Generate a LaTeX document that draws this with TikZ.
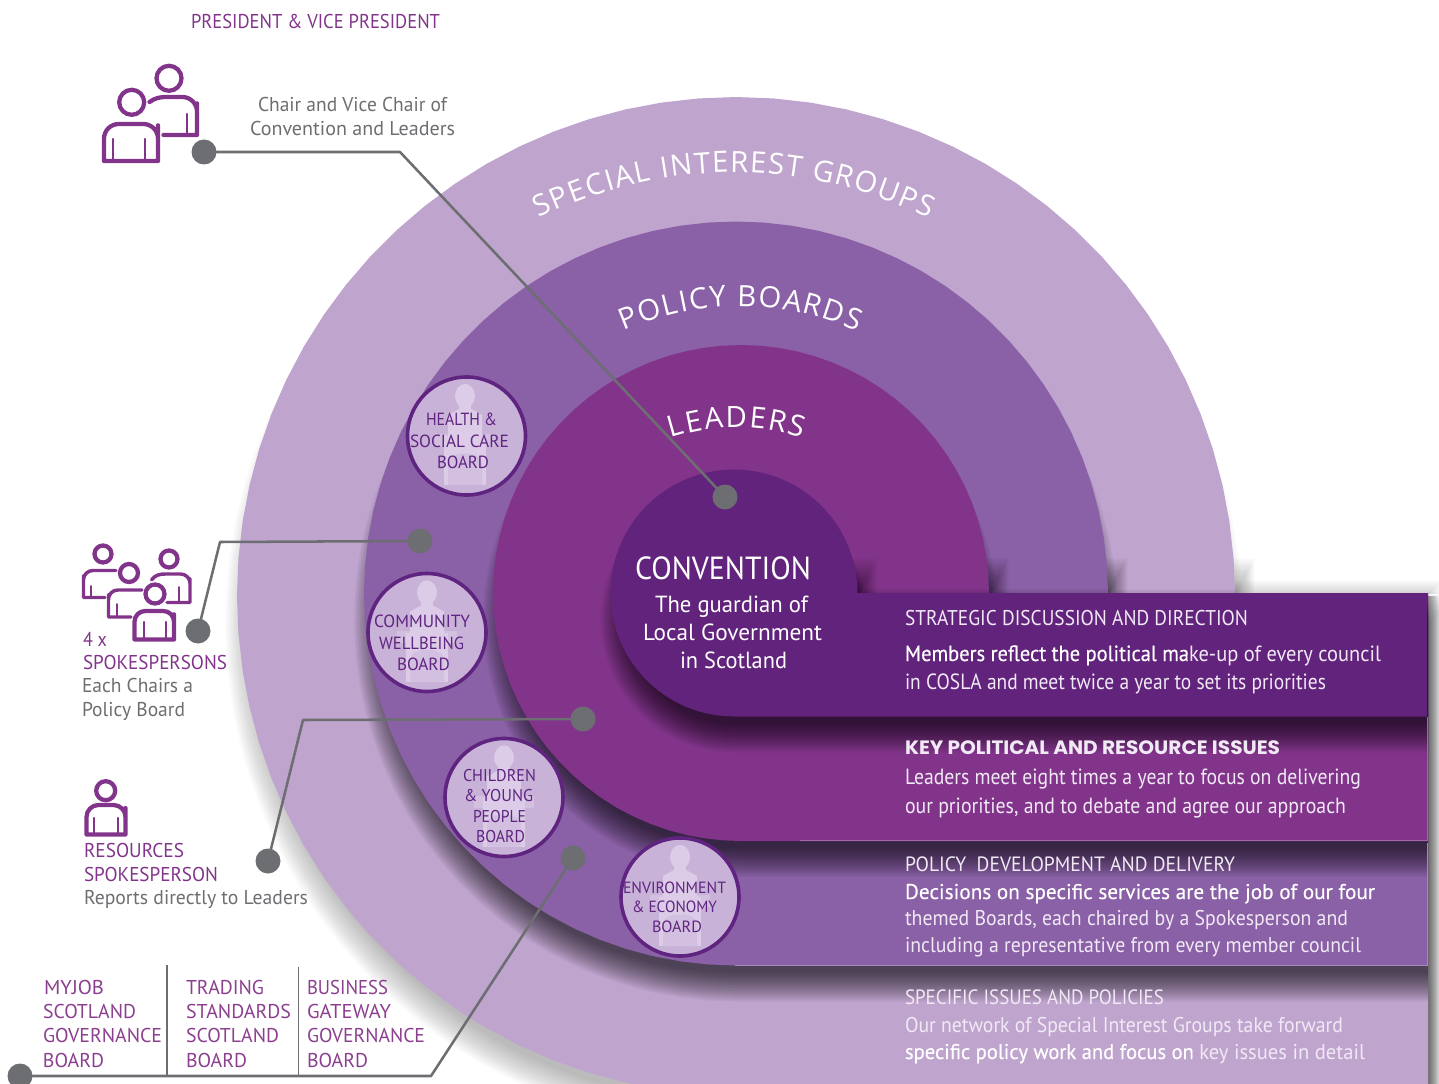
\documentclass[tikz,border=0pt]{standalone}
\usepackage{fontspec}
\usepackage{graphicx}
\usetikzlibrary{decorations.text}
\setmainfont{PT Sans}
\newfontfamily\arcfont{Open Sans}
\newfontfamily\keyfont{Poppins}
\newfontfamily\medfont[FakeBold=0.35]{PT Sans}
\definecolor{ringD}{HTML}{BFA4CE}
\definecolor{ringC}{HTML}{8A60A6}
\definecolor{ringB}{HTML}{82348B}
\definecolor{ringA}{HTML}{62237C}
\definecolor{purp}{HTML}{82348B}
\definecolor{purpB}{HTML}{8C3E8F}
\definecolor{deep}{HTML}{5F2480}
\definecolor{greyt}{HTML}{6D6E71}
\definecolor{disc}{HTML}{C9B2D8}
\definecolor{sil}{HTML}{DCCCE7}
\definecolor{silB}{HTML}{D3BFE0}
\definecolor{paleT}{HTML}{F1E9F5}
\newdimen\pxu \pxu=.75pt
\newcommand\tline[3]{\hbox{\kern#1\pxu\resizebox{#2\pxu}{\height}{#3}}}
% name, x, y of first baseline, leading, node options, lines
\newcommand\tblock[6]{\node[txt,#5] (#1) at (#2,#3) {\vtop{\baselineskip=#4\pxu\lineskiplimit=-1000pt\relax #6}};}
\newcommand\fs[1]{\fontsize{#1}{#1}\selectfont}
\newcommand\bandfill[6]{%
  \pgfmathsetmacro\sA{asin(#6/(#4+#6))}%
  \pgfmathsetmacro\rE{#4+#6}%
  \fill[#1] plot[domain=\sA:270,samples=64,variable=\ang] ({#2+\rE*cos(\ang)},{#3-\rE*sin(\ang)}) -- (#5+#6,#3+\rE) -- (#5+#6,#3-#6) -- cycle;}
\newcommand\bandclip[4]{%
  \clip plot[domain=0:270,samples=64,variable=\ang] ({#1+#3*cos(\ang)},{#2-#3*sin(\ang)}) -- (#4,#2+#3) -- (#4,#2) -- cycle;}
% cx cy r R opacity step: blurred shadow, shrunk and dropped so it shows below
\newcommand\softshadow[6]{%
  \foreach \i in {1,...,20}{%
    \pgfmathsetmacro\ee{\i*#6}%
    \bandfill{black,opacity=#5}{#1}{#2+26}{#3-20}{#4}{\ee}}}
% soft shadow where a disc meets the band: x of disc edge, y of band top, opacity
\newcommand\shadewedge[3]{%
  \foreach \i in {1,...,30}{%
    \fill[black,opacity=#3] (#1-8,#2-1.2*\i) rectangle (#1+.65*\i,#2+2);}}
\tikzset{
  txt/.style={inner sep=0pt,outer sep=0pt,anchor=base west},
  dotn/.style={circle,fill=greyt,minimum size=25*.75pt,inner sep=0pt},
  conn/.style={draw=greyt,line width=1.9pt,line join=round},
  divider/.style={draw=greyt,line width=1.3pt},
  icon/.style={draw=purp,line width=3.2pt,line cap=round,line join=round},
  iconthin/.style={draw=purp,line width=1.8pt,line cap=round},
  boardc/.style={circle,draw=deep,fill=disc,line width=2.7pt,minimum size=118*.75pt,inner sep=0pt},
  speaker/.pic={
    \fill[silB] (-30,-2) rectangle (30,10);
    \fill[sil] (0,-40) ellipse[x radius=10,y radius=12];
    \fill[sil] (-6,-32) rectangle (6,-22);
    \fill[sil] (-6,-27) -- (6,-27) -- (17,-21) -- (17,3) -- (-17,3) -- (-17,-21) -- cycle;
    \fill[sil] (-21,0) rectangle (21,49);
    \fill[silB] (-17,49) -- (-17,27) .. controls (-17,14) and (17,14) .. (17,27) -- (17,49) -- cycle;
  },
  arctext/.style={postaction={decorate},decoration={text along path,text align={fit to path},text={#1}}}
}
\begin{document}
\begin{tikzpicture}[x=.75pt,y=-.75pt]
\useasboundingbox (0,0) rectangle (1439,1084);
% --- rings with bands
\softshadow{734}{596}{499}{1428}{0.014}{1.5}
\shadewedge{1235}{594}{0.012}
\foreach \i in {1,...,10}{\fill[black,opacity=.05] (1428,596) rectangle (1428+\i,1084);}
\foreach \i in {1,...,14}{\fill[black,opacity=.012] (1235,594-\i) rectangle (1428+\i,594);}
\bandfill{ringD}{736}{596}{499}{1428}{0}
\begin{scope}\bandclip{736}{596}{499}{1428}
\softshadow{736}{593.5}{372}{1428}{0.04}{1.5}
\shadewedge{1108}{594}{0.014}
\end{scope}
\bandfill{ringC}{736}{593.5}{372}{1428}{0}
\begin{scope}\bandclip{736}{593.5}{372}{1428}
\softshadow{741}{593}{248}{1428}{0.04}{1.5}
\shadewedge{989}{594}{0.014}
\end{scope}
\bandfill{ringB}{741}{593}{248}{1428}{0}
\begin{scope}\bandclip{741}{593}{248}{1428}
\softshadow{734}{593}{123.5}{1427}{0.04}{1.5}
\shadewedge{857.5}{594}{0.014}
\end{scope}
\bandfill{ringA}{734}{593}{123.5}{1427}{0}
\draw[color=ringB!75!white,line width=.6pt] (800,840) -- (1427,840) -- (1427,717);
\draw[color=ringC!75!white,line width=.6pt] (735,965) -- (1427,965) -- (1427,843);
% --- curved labels
\path[arctext={|\arcfont\fs{22}\color{white}|SPECIAL INTEREST GROUPS}]
  (539,218) .. controls (668,157) and (800,157) .. (929,218);
\path[arctext={|\arcfont\fs{22}\color{white}|POLICY BOARDS}]
  (624,331) .. controls (702,298) and (779,298) .. (857,331);
\path[arctext={|\arcfont\fs{22}\color{white}|LEADERS}]
  (671,438) .. controls (716,424) and (759,424) .. (802,438);
% --- connectors
\node[dotn] (d1) at (204,152) {};
\node[dotn] (d2) at (725,497) {};
\node[dotn] (d3) at (198,631) {};
\node[dotn] (d4) at (420,541) {};
\node[dotn] (d5) at (268,861) {};
\node[dotn] (d6) at (583,719) {};
\node[dotn] (d7) at (20,1076) {};
\node[dotn] (d8) at (573,858) {};
\coordinate (b1) at (400,152);
\coordinate (b2) at (220,542);
\coordinate (b3) at (303,720);
\coordinate (b4) at (431,1076);
\coordinate (v1a) at (167,965);
\coordinate (v1b) at (167,1076);
\coordinate (v2a) at (298.5,967);
\coordinate (v2b) at (298.5,1076);
\draw[conn] (d1.center) -- (b1) -- (d2.center);
\draw[conn] (d3.center) -- (b2) -- (d4.center);
\draw[conn] (d5.center) -- (b3) -- (d6.center);
\draw[conn] (d7.center) -- (b4) -- (d8.center);
\draw[divider] (v1a) -- (v1b);
\draw[divider] (v2a) -- (v2b);
% --- boards
\node[boardc] (hb) at (466.5,436) {};
\node[boardc] (cb) at (427,632.5) {};
\node[boardc] (yb) at (504,797.5) {};
\node[boardc] (eb) at (680,897) {};
\pic at (465,436) {speaker};
\pic at (427,632.5) {speaker};
\pic at (504,797.5) {speaker};
\pic at (680,897) {speaker};
\tblock{thb}{410}{426}{21.3}{text=deep,font=\fs{13.2}}{\tline{16}{71}{HEALTH \&}\tline{0}{99}{SOCIAL CARE}\tline{27}{52}{BOARD}}
\tblock{tcb}{374}{627.5}{21.5}{text=deep,font=\fs{13.2}}{\tline{0}{96}{COMMUNITY}\tline{5}{85}{WELLBEING}\tline{23}{53}{BOARD}}
\tblock{tyb}{463}{781}{20.5}{text=deep,font=\fs{12.8}}{\tline{0}{73}{CHILDREN}\tline{1}{69}{\& YOUNG}\tline{10}{53}{PEOPLE}\tline{13}{49}{BOARD}}
\tblock{teb}{623}{893}{19.7}{text=deep,font=\fs{12.2}}{\tline{0}{103}{ENVIRONMENT}\tline{9}{85}{\& ECONOMY}\tline{29}{50}{BOARD}}
% --- centre
\tblock{tconv}{635}{579}{32}{text=white,font=\fs{24}}{\tline{0}{176}{CONVENTION}}
\tblock{tguard}{643}{612}{28}{text=white,font=\fs{17.5}}{\tline{12}{153}{The guardian of}\tline{0}{179}{Local Government}\tline{37}{107}{in Scotland}}
% --- panel text
\tblock{p1}{905}{625}{28}{text=paleT,font=\fs{16}}{\tline{0}{343}{STRATEGIC DISCUSSION AND DIRECTION}}
\tblock{p1b}{905}{661}{28}{text=paleT,font=\fs{16.5}}{\tline{0}{476}{\textcolor{white}{\medfont Members reflect the political ma}ke-up of every council}\tline{0}{421}{in COSLA and meet twice a year to set its priorities}}
\tblock{p2}{905}{754}{28}{text=paleT,font=\keyfont\bfseries\fs{14.5}}{\tline{0}{375}{KEY POLITICAL AND RESOURCE ISSUES}}
\tblock{p2b}{905}{784}{29}{text=paleT,font=\fs{16.5}}{\tline{0}{456}{Leaders meet eight times a year to focus on delivering}\tline{0}{441}{our priorities, and to debate and agree our approach}}
\tblock{p3}{905}{871}{28}{text=paleT,font=\fs{15.5}}{\tline{0}{330}{POLICY\ \ DEVELOPMENT AND DELIVERY}}
\tblock{p3b}{905}{899}{26.5}{text=paleT,font=\fs{16}}{\tline{0}{470}{\textcolor{white}{\medfont Decisions on specific services are the job of our four}}\tline{0}{443}{themed Boards, each chaired by a Spokesperson and}\tline{0}{456}{including a representative from every member council}}
\tblock{p4}{905}{1004}{28}{text=paleT,font=\fs{15.5}}{\tline{0}{259}{SPECIFIC ISSUES AND POLICIES}}
\tblock{p4b}{905}{1032}{27}{text=paleT,font=\fs{16}}{\tline{0}{438}{Our network of Special Interest Groups take forward}\tline{0}{460}{\textcolor{white}{\medfont specific policy work and focus on} key issues in detail}}
% --- left text
\tblock{tpres}{191}{29}{24}{text=purp,font=\fs{15}}{\tline{0}{249}{PRESIDENT \& VICE PRESIDENT}}
\tblock{tchair}{250}{112}{24}{text=greyt,font=\fs{15}}{\tline{8}{189}{Chair and Vice Chair of}\tline{0}{205}{Convention and Leaders}}
\tblock{tspokes}{82}{646}{23.4}{text=greyt,font=\fs{15}}{\tline{1}{24}{\textcolor{purp}{4 x}}\tline{1}{144}{\textcolor{purp}{SPOKESPERSONS}}\tline{0}{111}{Each Chairs a}\tline{0}{103}{Policy Board}}
\tblock{tres}{84}{857.5}{23.7}{text=greyt,font=\fs{15}}{\tline{0}{100}{\textcolor{purp}{RESOURCES}}\tline{0}{134}{\textcolor{purp}{SPOKESPERSON}}\tline{0}{224}{Reports directly to Leaders}}
\tblock{tmy}{43}{994}{24.4}{text=purpB,font=\fs{15}}{\tline{1}{60}{MYJOB}\tline{0}{93}{SCOTLAND}\tline{0}{119}{GOVERNANCE}\tline{0}{61}{BOARD}}
\tblock{ttr}{186}{994}{24.4}{text=purpB,font=\fs{15}}{\tline{0}{78}{TRADING}\tline{0}{105}{STANDARDS}\tline{0}{93}{SCOTLAND}\tline{0}{61}{BOARD}}
\tblock{tbu}{307}{994}{24.4}{text=purpB,font=\fs{15}}{\tline{0}{81}{BUSINESS}\tline{0}{84}{GATEWAY}\tline{0}{118}{GOVERNANCE}\tline{0}{61}{BOARD}}
% --- person icons
% president pair
\draw[icon] (131.7,102.3) circle[radius=12.5];
\draw[icon] (169,78.3) circle[radius=12.5];
\draw[icon] (104,161) [rounded corners=11pt] -- (104,124) -- (158,124) -- (158,140) [sharp corners] -- (158,161) -- cycle;
\draw[iconthin] (113,139) -- (113,161);
\draw[iconthin] (145,139) -- (145,161);
\draw[icon] (149.5,102) .. controls (155,98) and (160,97) .. (166,97) [rounded corners=11pt] -- (197,97) -- (197,118) [sharp corners] -- (197,135) -- (163.5,135);
\draw[iconthin] (187,114) -- (187,134);
% resources
\draw[icon] (105.7,790.7) circle[radius=9.5];
\draw[icon] (86.5,834.5) [rounded corners=9pt] -- (86.5,805) -- (125.5,805) -- (125.5,820) [sharp corners] -- (125.5,834.5) -- cycle;
\draw[iconthin] (94,818) -- (94,834);
\draw[iconthin] (118,818) -- (118,834);
% spokespersons
\draw[icon] (103,554) circle[radius=8.5];
\draw[icon] (169,559) circle[radius=8.5];
\draw[icon] (129,573) circle[radius=9];
\draw[icon] (155,594) circle[radius=9.5];
\draw[icon,line width=2.6pt] (116,570.5) -- (100,570.5) [rounded corners=7pt] -- (83.5,570.5) -- (83.5,585) [sharp corners] -- (83.5,597.5) -- (105,597.5);
\draw[iconthin,line width=1.4pt] (91,586) -- (91,597);
\draw[icon,line width=2.6pt] (151.5,580) .. controls (155,575) and (160,574) .. (165,574) [rounded corners=7pt] -- (190,574) -- (190,588) [sharp corners] -- (190,602.5) -- (167,602.5);
\draw[iconthin,line width=1.4pt] (179,587) -- (179,602);
\draw[icon,line width=2.6pt] (142,590) -- (125,590) [rounded corners=7pt] -- (108.5,590) -- (108.5,604) [sharp corners] -- (108.5,617) -- (131,617);
\draw[iconthin,line width=1.4pt] (117,604) -- (117,616);
\draw[icon] (134.5,639.5) [rounded corners=8pt] -- (134.5,611) -- (174,611) -- (174,625) [sharp corners] -- (174,639.5) -- cycle;
\draw[iconthin] (144,622) -- (144,639);
\draw[iconthin] (166,622) -- (166,639);
\end{tikzpicture}
\end{document}
